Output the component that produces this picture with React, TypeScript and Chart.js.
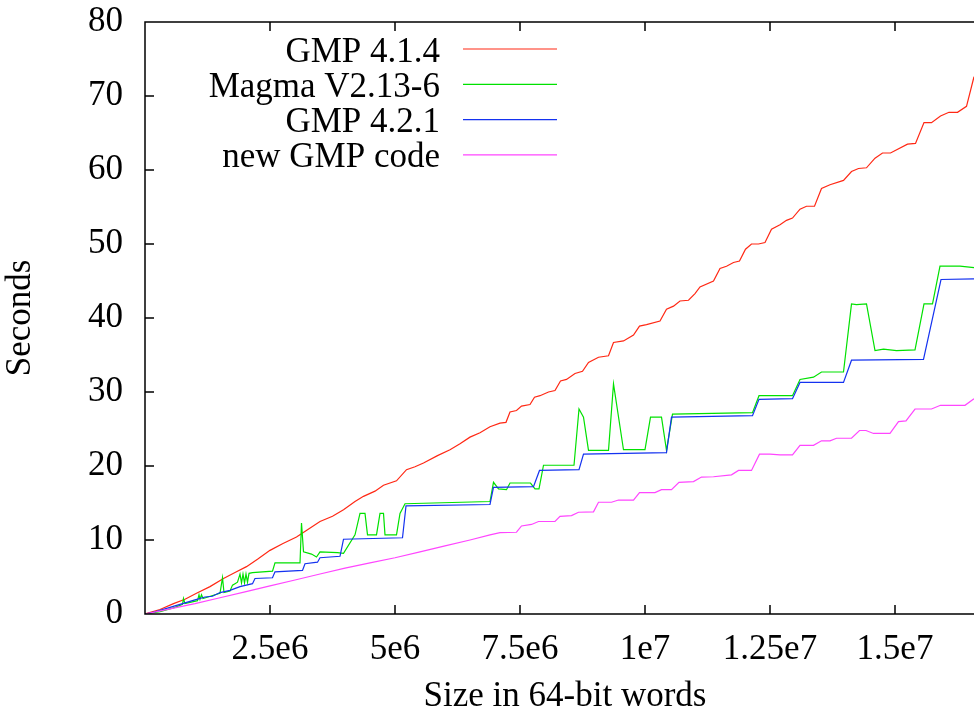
import React, { useEffect, useRef } from "react";
import { Chart, registerables } from "chart.js";

Chart.register(...registerables);

// ---------- data (x in 64-bit words, y in seconds) ----------
const seriesLabels = ["GMP 4.1.4", "Magma V2.13-6", "GMP 4.2.1", "new GMP code"];
const seriesColors = ["rgb(255,40,20)", "rgb(0,225,0)", "rgb(20,50,240)", "rgb(255,70,255)"];

const gmp414Sizes = [0, 0.3e6, 0.57e6, 0.8e6, 1.03e6, 1.3e6, 1.57e6, 1.8e6, 2.03e6, 2.25e6, 2.5e6, 2.75e6, 3.03e6, 3.25e6, 3.5e6, 3.75e6, 3.97e6, 4.2e6, 4.37e6, 4.6e6, 4.77e6, 5.03e6, 5.23e6, 5.4e6, 5.57e6, 5.85e6, 6.1e6, 6.3e6, 6.5e6, 6.7e6, 6.9e6, 7.1e6, 7.22e6, 7.3e6, 7.43e6, 7.53e6, 7.7e6, 7.79e6, 7.9e6, 8.07e6, 8.2e6, 8.31e6, 8.43e6, 8.6e6, 8.75e6, 8.87e6, 9.07e6, 9.27e6, 9.37e6, 9.57e6, 9.77e6, 9.89e6, 10.03e6, 10.3e6, 10.43e6, 10.57e6, 10.7e6, 10.87e6, 11.0e6, 11.1e6, 11.37e6, 11.5e6, 11.63e6, 11.77e6, 11.89e6, 12.01e6, 12.13e6, 12.27e6, 12.4e6, 12.53e6, 12.7e6, 12.83e6, 12.95e6, 13.1e6, 13.23e6, 13.39e6, 13.53e6, 13.7e6, 13.97e6, 14.13e6, 14.27e6, 14.43e6, 14.6e6, 14.75e6, 14.91e6, 15.25e6, 15.41e6, 15.58e6, 15.73e6, 15.91e6, 16.08e6, 16.25e6, 16.43e6, 16.58e6];
const gmp414Seconds = [0, 0.6, 1.4, 2.0, 2.8, 3.7, 4.8, 5.6, 6.4, 7.4, 8.6, 9.5, 10.4, 11.4, 12.5, 13.2, 14.1, 15.2, 15.9, 16.6, 17.4, 18.0, 19.5, 19.9, 20.4, 21.4, 22.2, 23.0, 23.9, 24.5, 25.3, 25.8, 25.9, 27.3, 27.5, 28.1, 28.3, 29.3, 29.5, 30.0, 30.2, 31.5, 31.7, 32.5, 32.8, 34.0, 34.7, 34.9, 36.7, 36.9, 37.7, 38.9, 39.1, 39.6, 41.2, 41.6, 42.3, 42.4, 43.3, 44.2, 45.0, 46.7, 47.0, 47.5, 47.7, 49.3, 50.0, 50.0, 50.2, 52.0, 52.6, 53.2, 53.5, 54.7, 55.1, 55.1, 57.5, 58.0, 58.6, 59.8, 60.2, 60.3, 61.6, 62.3, 62.3, 63.5, 63.6, 66.4, 66.4, 67.3, 67.8, 67.8, 68.6, 72.6];

const magmaSizes = [0, 0.3e6, 0.6e6, 0.75e6, 0.77e6, 0.8e6, 1.05e6, 1.08e6, 1.1e6, 1.13e6, 1.16e6, 1.4e6, 1.5e6, 1.55e6, 1.58e6, 1.7e6, 1.75e6, 1.8e6, 1.85e6, 1.9e6, 1.93e6, 1.96e6, 1.99e6, 2.02e6, 2.05e6, 2.08e6, 2.15e6, 2.55e6, 2.6e6, 3.1e6, 3.13e6, 3.17e6, 3.33e6, 3.43e6, 3.5e6, 3.85e6, 3.97e6, 4.2e6, 4.3e6, 4.4e6, 4.45e6, 4.63e6, 4.7e6, 4.77e6, 4.8e6, 5.03e6, 5.1e6, 5.2e6, 6.9e6, 6.97e6, 7.07e6, 7.23e6, 7.3e6, 7.71e6, 7.8e6, 7.88e6, 7.97e6, 8.58e6, 8.68e6, 8.77e6, 8.87e6, 9.27e6, 9.37e6, 9.57e6, 10.0e6, 10.11e6, 10.33e6, 10.43e6, 10.55e6, 12.15e6, 12.28e6, 12.95e6, 13.1e6, 13.37e6, 13.53e6, 13.97e6, 14.13e6, 14.23e6, 14.43e6, 14.6e6, 14.77e6, 15.03e6, 15.4e6, 15.58e6, 15.75e6, 15.9e6, 16.3e6, 16.58e6];
const magmaSeconds = [0, 0.3, 0.9, 1.3, 2.1, 1.4, 1.8, 2.6, 2.0, 2.6, 2.1, 2.6, 2.8, 4.9, 2.9, 3.1, 3.9, 4.1, 4.3, 5.4, 4.2, 5.4, 4.2, 5.4, 4.3, 5.5, 5.6, 5.8, 6.9, 6.9, 12.3, 8.4, 8.1, 7.7, 8.4, 8.3, 8.2, 10.7, 13.6, 13.6, 10.7, 10.7, 13.6, 13.6, 10.7, 10.7, 13.6, 14.9, 15.2, 17.8, 16.9, 16.8, 17.7, 17.7, 16.9, 16.9, 20.1, 20.1, 27.7, 26.6, 22.1, 22.1, 31.1, 22.2, 22.2, 26.6, 26.6, 22.1, 27.0, 27.2, 29.5, 29.5, 31.7, 32.0, 32.7, 32.7, 41.9, 41.8, 41.9, 35.6, 35.8, 35.6, 35.7, 41.9, 41.9, 47.0, 47.0, 46.8];

const gmp421Sizes = [0, 0.2e6, 0.4e6, 0.6e6, 0.8e6, 1.0e6, 1.2e6, 1.35e6, 1.5e6, 1.7e6, 1.9e6, 2.15e6, 2.2e6, 2.55e6, 2.6e6, 3.15e6, 3.2e6, 3.45e6, 3.5e6, 3.9e6, 3.97e6, 5.15e6, 5.22e6, 6.9e6, 6.97e6, 7.77e6, 7.89e6, 8.68e6, 8.77e6, 10.43e6, 10.53e6, 12.15e6, 12.28e6, 12.95e6, 13.1e6, 13.97e6, 14.13e6, 15.57e6, 15.92e6, 16.58e6];
const gmp421Seconds = [0, 0.3, 0.7, 1.1, 1.5, 1.9, 2.3, 2.4, 2.9, 3.2, 3.7, 4.1, 4.8, 4.9, 5.7, 5.9, 6.8, 7.0, 7.6, 7.8, 10.1, 10.3, 14.6, 14.8, 17.1, 17.2, 19.4, 19.5, 21.6, 21.8, 26.6, 26.8, 29.0, 29.1, 31.3, 31.3, 34.3, 34.4, 45.2, 45.3];

const newGmpSizes = [0, 0.5e6, 1.0e6, 1.5e6, 2.0e6, 2.5e6, 3.0e6, 3.5e6, 4.0e6, 4.5e6, 5.0e6, 5.5e6, 6.0e6, 6.5e6, 6.9e6, 7.1e6, 7.43e6, 7.53e6, 7.73e6, 7.87e6, 8.2e6, 8.3e6, 8.53e6, 8.67e6, 8.97e6, 9.07e6, 9.33e6, 9.47e6, 9.77e6, 9.89e6, 10.2e6, 10.33e6, 10.53e6, 10.68e6, 10.97e6, 11.13e6, 11.37e6, 11.73e6, 11.87e6, 12.13e6, 12.29e6, 12.5e6, 12.7e6, 12.95e6, 13.1e6, 13.37e6, 13.53e6, 13.7e6, 13.83e6, 14.13e6, 14.29e6, 14.42e6, 14.57e6, 14.9e6, 15.07e6, 15.22e6, 15.4e6, 15.73e6, 15.91e6, 16.4e6, 16.58e6];
const newGmpSeconds = [0, 0.7, 1.4, 2.2, 3.0, 3.8, 4.6, 5.4, 6.2, 6.9, 7.6, 8.4, 9.2, 10.0, 10.7, 11.0, 11.05, 11.9, 12.1, 12.5, 12.5, 13.2, 13.3, 13.75, 13.8, 15.1, 15.1, 15.4, 15.4, 16.4, 16.4, 16.8, 16.8, 17.8, 17.9, 18.5, 18.55, 18.8, 19.4, 19.4, 21.6, 21.6, 21.5, 21.5, 22.8, 22.8, 23.4, 23.4, 23.75, 23.75, 24.8, 24.8, 24.4, 24.4, 26.0, 26.1, 27.7, 27.7, 28.2, 28.2, 29.1];

const xTickValues = [0, 2.5e6, 5e6, 7.5e6, 1e7, 1.25e7, 1.5e7];
const xTickLabels = ["", "2.5e6", "5e6", "7.5e6", "1e7", "1.25e7", "1.5e7"];
const yTickValues = [0, 10, 20, 30, 40, 50, 60, 70, 80];
const yTickLabels = ["0", "10", "20", "30", "40", "50", "60", "70", "80"];
const xTitle = "Size in 64-bit words";
const yTitle = "Seconds";

const FONT = '"Liberation Serif", "Times New Roman", Times, serif';
const FONT_SIZE = 35;

function toPoints(xs: number[], ys: number[]) {
  return xs.map((x, i) => ({ x, y: ys[i] }));
}

const framePlugin = {
  id: "gnuplotFrame",
  afterDraw(chart: any) {
    const { ctx, chartArea, scales } = chart;
    const { left, top, right, bottom } = chartArea;
    const xs = scales.x;
    const ys = scales.y;
    ctx.save();
    ctx.strokeStyle = "#000";
    ctx.lineWidth = 1.5;
    ctx.beginPath();
    ctx.moveTo(right, top);
    ctx.lineTo(left, top);
    ctx.lineTo(left, bottom);
    ctx.lineTo(right, bottom);
    ctx.lineTo(right, top);
    const tl = 9;
    xs.ticks.forEach((t: any) => {
      const px = xs.getPixelForValue(t.value);
      if (px <= left + 1 || px >= right - 1) return;
      ctx.moveTo(px, bottom);
      ctx.lineTo(px, bottom - tl);
      ctx.moveTo(px, top);
      ctx.lineTo(px, top + tl);
    });
    ys.ticks.forEach((t: any) => {
      const py = ys.getPixelForValue(t.value);
      if (py >= bottom - 1 || py <= top + 1) return;
      ctx.moveTo(left, py);
      ctx.lineTo(left + tl, py);
      ctx.moveTo(right, py);
      ctx.lineTo(right - tl, py);
    });
    ctx.stroke();

    // legend (gnuplot style: right-aligned text, sample line on the right)
    const textRight = 440;
    const lineStart = 463;
    const lineEnd = 557;
    const firstY = 49;
    const rowGap = 35.3;
    ctx.font = `${FONT_SIZE}px ${FONT}`;
    ctx.textAlign = "right";
    ctx.textBaseline = "alphabetic";
    chart.data.datasets.forEach((ds: any, i: number) => {
      const yy = firstY + i * rowGap;
      ctx.fillStyle = "#000";
      ctx.fillText(ds.label, textRight, yy + 12.5);
      ctx.strokeStyle = ds.borderColor;
      ctx.lineWidth = 1.2;
      ctx.beginPath();
      ctx.moveTo(lineStart, yy);
      ctx.lineTo(lineEnd, yy);
      ctx.stroke();
    });
    ctx.restore();
  },
};

export default function App() {
  const canvasRef = useRef<HTMLCanvasElement | null>(null);

  useEffect(() => {
    document.body.style.margin = "0";
    const canvas = canvasRef.current;
    if (!canvas) return;
    const allSizes = [gmp414Sizes, magmaSizes, gmp421Sizes, newGmpSizes];
    const allSeconds = [gmp414Seconds, magmaSeconds, gmp421Seconds, newGmpSeconds];
    const chart = new Chart(canvas, {
      type: "line",
      data: {
        datasets: seriesLabels.map((label, i) => ({
          label,
          data: toPoints(allSizes[i], allSeconds[i]),
          borderColor: seriesColors[i],
          backgroundColor: seriesColors[i],
          borderWidth: 1.2,
          pointRadius: 0,
          tension: 0,
          fill: false,
          order: seriesLabels.length - i,
        })),
      },
      options: {
        animation: false,
        responsive: false,
        devicePixelRatio: 1,
        layout: { padding: { top: 22, right: 0, left: 0, bottom: 0 } },
        plugins: { legend: { display: false }, tooltip: { enabled: false } },
        scales: {
          x: {
            type: "linear",
            min: 0,
            max: 16.8e6,
            grid: { display: false, drawTicks: false },
            border: { display: false },
            afterBuildTicks: (scale: any) => {
              scale.ticks = xTickValues.map((value) => ({ value }));
            },
            ticks: {
              autoSkip: false,
              maxRotation: 0,
              padding: 15,
              color: "#000",
              font: { family: FONT, size: FONT_SIZE },
              callback: (_v: any, i: number) => xTickLabels[i] ?? "",
            },
            title: {
              display: true,
              text: xTitle,
              color: "#000",
              padding: 0,
              font: { family: FONT, size: FONT_SIZE },
            },
            afterFit: (scale: any) => {
              scale.height = 104;
              scale.paddingLeft = 0;
              scale.paddingRight = 0;
              scale.paddingTop = 0;
              scale.paddingBottom = 0;
            },
          },
          y: {
            type: "linear",
            min: 0,
            max: 80,
            grid: { display: false, drawTicks: false },
            border: { display: false },
            afterBuildTicks: (scale: any) => {
              scale.ticks = yTickValues.map((value) => ({ value }));
            },
            ticks: {
              autoSkip: false,
              padding: 22,
              color: "#000",
              font: { family: FONT, size: FONT_SIZE },
              callback: (_v: any, i: number) => yTickLabels[i] ?? "",
            },
            title: {
              display: true,
              text: yTitle,
              color: "#000",
              padding: 0,
              font: { family: FONT, size: FONT_SIZE },
            },
            afterFit: (scale: any) => {
              scale.width = 145;
              scale.paddingLeft = 0;
              scale.paddingRight = 0;
              scale.paddingTop = 0;
              scale.paddingBottom = 0;
            },
          },
        },
      },
      plugins: [framePlugin],
    });
    return () => chart.destroy();
  }, []);

  return (
    <div style={{ width: 974, height: 718, overflow: "hidden", background: "#fff" }}>
      <canvas ref={canvasRef} width={985} height={718} style={{ display: "block" }} />
    </div>
  );
}
